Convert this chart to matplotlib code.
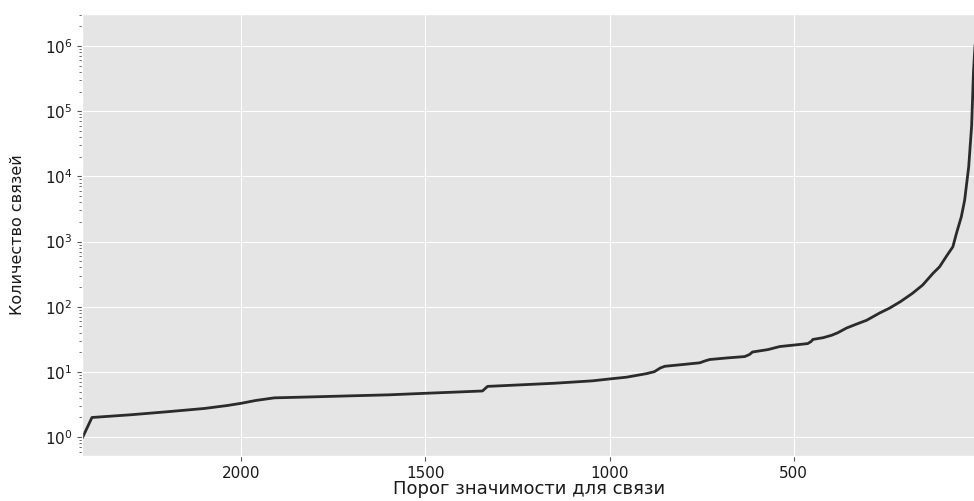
import numpy as np
import matplotlib.pyplot as plt

# порог значимости (ось X) и количество связей (ось Y)
threshold = [2430, 2405, 2300, 2200, 2100, 2038, 2000, 1960, 1910, 1800, 1700,
             1600, 1500, 1400, 1345, 1331, 1250, 1150, 1046, 1000, 954, 900,
             878, 862, 850, 800, 755, 740, 728, 680, 633, 620, 612, 570, 538,
             500, 462, 452, 448, 420, 397, 380, 357, 330, 302, 267, 240, 210,
             178, 150, 122, 104, 85, 68, 58, 45, 36, 25, 17, 12, 8, 4, 0]
links = [1.0, 2.0, 2.2, 2.45, 2.75, 3.05, 3.3, 3.65, 4.0, 4.15, 4.3,
         4.45, 4.7, 4.95, 5.1, 6.0, 6.3, 6.7, 7.3, 7.8, 8.3, 9.4,
         10.1, 11.5, 12.2, 13.0, 13.8, 14.8, 15.5, 16.4, 17.2, 18.5, 20.2, 22.0, 24.5,
         25.8, 27.2, 29.5, 31.5, 33.5, 36.5, 40.0, 47.0, 54.0, 62.0, 80.0, 95.0, 120.0,
         160.0, 215.0, 325.0, 410.0, 600.0, 830.0, 1350.0, 2400.0, 4300.0, 14000.0,
         60000.0, 400000.0, 1000000.0, 1300000.0, 1450000.0]

plt.style.use('ggplot')

fig = plt.figure(figsize=(9.74, 5.01), dpi=100)
ax = fig.add_axes([0.0842, 0.0898, 0.9425, 0.8822])

ax.plot(threshold, links, color='#2b2b2b', linewidth=2.0)

ax.set_yscale('log')
ax.set_xlim(2432, -60)
ax.set_ylim(10 ** -0.29, 10 ** 6.49)
ax.set_xticks([2000, 1500, 1000, 500, 0])

ax.tick_params(axis='both', which='major', labelsize=11, labelcolor='#1a1a1a')
ax.tick_params(axis='y', which='minor', length=2)

ax.set_xlabel('Порог значимости для связи', fontsize=13, color='#1a1a1a')
ax.xaxis.set_label_coords(0.487, -0.054)
ax.set_ylabel('Количество связей', fontsize=11.5, color='#1a1a1a', labelpad=14)

fig.savefig('out.png', dpi=100)
